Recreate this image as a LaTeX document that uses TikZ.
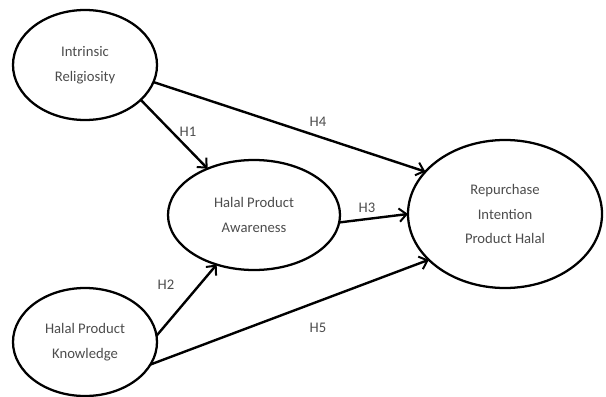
\documentclass[tikz,border=0pt]{standalone}
\usepackage{fontspec}
\setmainfont{Carlito}
\usetikzlibrary{shapes.geometric, arrows.meta}

\tikzset{
  construct/.style={ellipse, draw=black, line width=1.7pt, inner sep=0pt, outer sep=0pt,
    align=center, text=black!70, font=\fontsize{11}{18.5}\selectfont},
  hyp/.style={line width=1.8pt, -{Straight Barb[length=5.5pt,width=10pt,line width=1.5pt]}},
  hlabel/.style={text=black!70, font=\fontsize{11}{13}\selectfont}
}

\begin{document}
\begin{tikzpicture}[x=0.75pt,y=-0.75pt]
\useasboundingbox (0,0) rectangle (606,396);
\node[construct, minimum width=108pt, minimum height=82.5pt] (ir) at (85,65) {Intrinsic\\Religiosity};
\node[construct, minimum width=129pt, minimum height=82.5pt] (hpa) at (254,215) {Halal Product\\Awareness};
\node[construct, minimum width=145.5pt, minimum height=111pt] (rih) at (505,214) {Repurchase\\Intention\\Product Halal};
\node[construct, minimum width=108pt, minimum height=81pt] (hpk) at (85,342) {Halal Product\\Knowledge};

\draw[hyp] (ir.-32) -- (hpa.135);
\draw[hyp] (ir.-14) -- (rih.152);
\draw[hyp] (hpa.-5) -- (rih.180);
\draw[hyp] (hpk.5) -- (hpa.233);
\draw[hyp] (hpk.-19) -- (rih.211);

\node[hlabel] (h1) at (188,132) {H1};
\node[hlabel] (h4) at (318,122) {H4};
\node[hlabel] (h3) at (367,208) {H3};
\node[hlabel] (h2) at (166,285) {H2};
\node[hlabel] (h5) at (318,328) {H5};
\end{tikzpicture}
\end{document}
